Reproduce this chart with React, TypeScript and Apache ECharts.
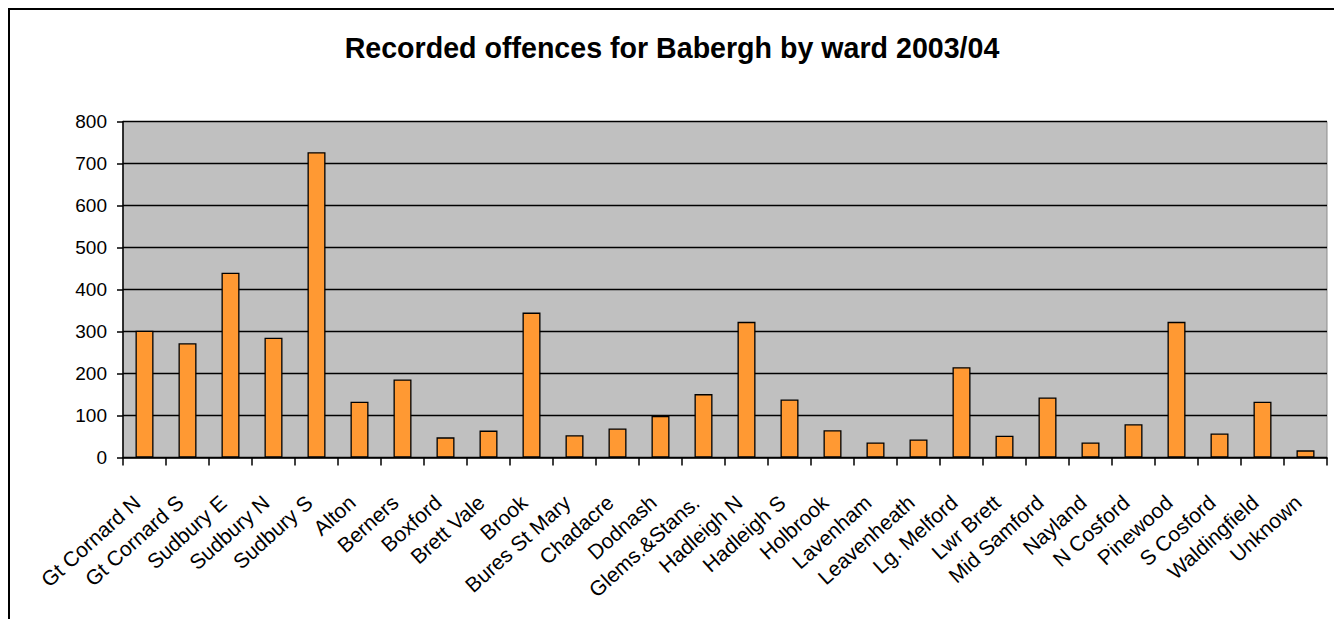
import React, { useEffect, useRef } from "react";
import * as echarts from "echarts";

const titleText = "Recorded offences for Babergh by ward 2003/04";

const wards = [
  "Gt Cornard N",
  "Gt Cornard S",
  "Sudbury E",
  "Sudbury N",
  "Sudbury S",
  "Alton",
  "Berners",
  "Boxford",
  "Brett Vale",
  "Brook",
  "Bures St Mary",
  "Chadacre",
  "Dodnash",
  "Glems.&Stans.",
  "Hadleigh N",
  "Hadleigh S",
  "Holbrook",
  "Lavenham",
  "Leavenheath",
  "Lg. Melford",
  "Lwr Brett",
  "Mid Samford",
  "Nayland",
  "N Cosford",
  "Pinewood",
  "S Cosford",
  "Waldingfield",
  "Unknown",
];

const offences = [
  302, 272, 440, 285, 727, 133, 186, 48, 64, 345, 53, 69, 99, 151, 323, 138,
  65, 36, 43, 215, 52, 143, 36, 79, 323, 57, 133, 17,
];

const yMin = 0;
const yMax = 800;
const yStep = 100;

const FONT = "'Liberation Sans', Arial, Helvetica, sans-serif";

export default function App() {
  const ref = useRef<HTMLDivElement>(null);

  useEffect(() => {
    if (!ref.current) return;
    const chart = echarts.init(ref.current, undefined, { renderer: "svg" });
    chart.setOption({
      animation: false,
      backgroundColor: "#ffffff",
      title: {
        text: titleText,
        left: "center",
        top: 18,
        textStyle: {
          fontFamily: FONT,
          fontSize: 28.6,
          fontWeight: "bold",
          color: "#000000",
        },
      },
      grid: {
        left: 113,
        right: 7,
        top: 111.5,
        bottom: 161.5,
        show: true,
        backgroundColor: "#C0C0C0",
        borderColor: "#8c8c8c",
        borderWidth: 1,
      },
      xAxis: {
        type: "category",
        data: wards,
        boundaryGap: true,
        axisLine: { show: true, lineStyle: { color: "#000", width: 1.5 } },
        axisTick: {
          show: true,
          length: 8,
          inside: false,
          lineStyle: { color: "#000", width: 1.5 },
        },
        axisLabel: {
          interval: 0,
          rotate: 42,
          margin: 35,
          padding: [0, 10, 0, 0],
          fontFamily: FONT,
          fontSize: 21,
          color: "#000",
        },
        splitLine: { show: false },
      },
      yAxis: {
        type: "value",
        min: yMin,
        max: yMax,
        interval: yStep,
        axisLine: { show: true, lineStyle: { color: "#000", width: 1.5 } },
        axisTick: {
          show: true,
          length: 6,
          inside: false,
          lineStyle: { color: "#000", width: 1.5 },
        },
        axisLabel: {
          margin: 16,
          fontFamily: FONT,
          fontSize: 19,
          color: "#000",
        },
        splitLine: { show: true, lineStyle: { color: "#000", width: 1.3 } },
      },
      series: [
        {
          type: "bar",
          data: offences,
          barWidth: 18,
          itemStyle: {
            color: "#FF9933",
            borderColor: "#000",
            borderWidth: 1.3,
          },
        },
      ],
    });
    return () => chart.dispose();
  }, []);

  return (
    <div
      style={{
        position: "fixed",
        left: 0,
        top: 0,
        width: 1334,
        height: 619,
        overflow: "hidden",
        background: "#fff",
      }}
    >
      <div
        style={{
          position: "absolute",
          left: 8,
          top: 8,
          borderLeft: "2px solid #000",
          borderTop: "2px solid #000",
        }}
      >
        <div ref={ref} style={{ width: 1324, height: 609 }} />
      </div>
    </div>
  );
}
